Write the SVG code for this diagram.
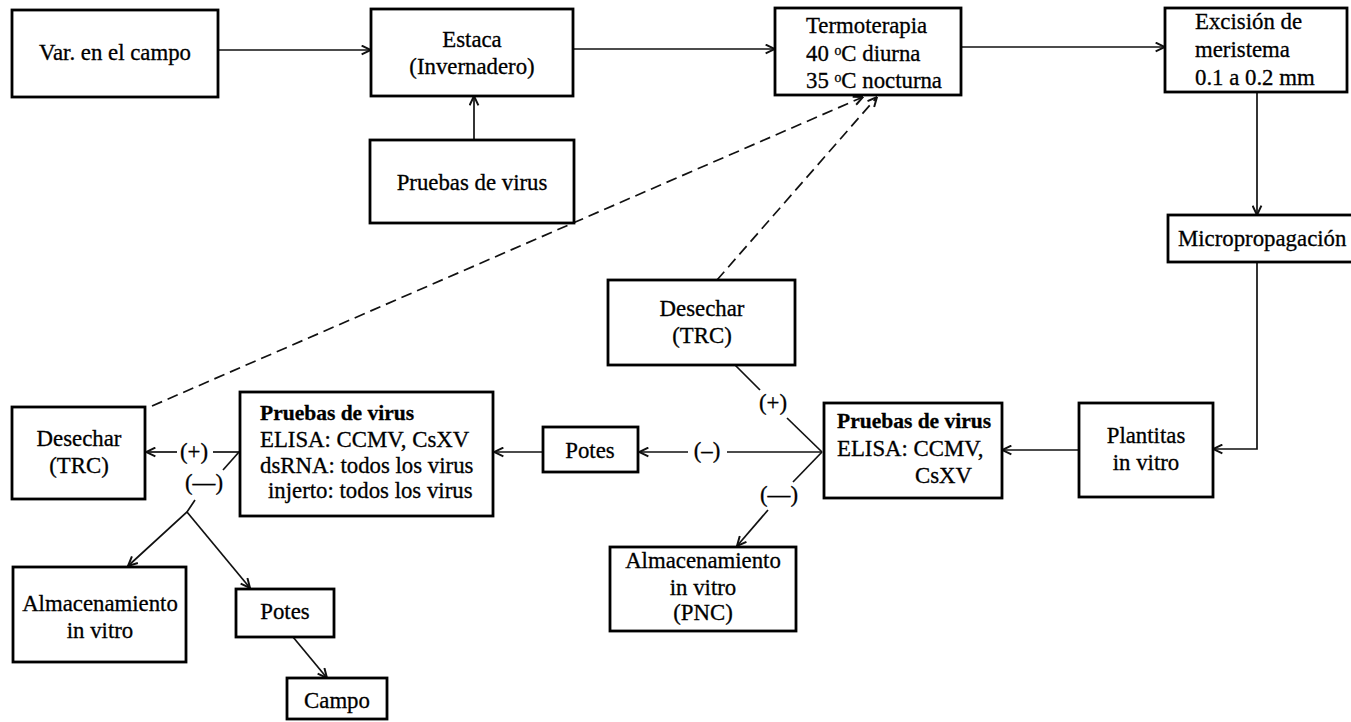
<svg xmlns="http://www.w3.org/2000/svg" width="1351" height="722" viewBox="0 0 1351 722">
<style>
.box{fill:#fff;stroke:#000;stroke-width:2.8}
.ln{fill:none;stroke:#111;stroke-width:1.7}
.dash{stroke-dasharray:11 6}
.t{font-family:"Liberation Serif","Times New Roman",serif;font-size:22.8px;fill:#000;stroke:#000;stroke-width:0.3}
.b{font-weight:bold;font-size:21.5px}
.c{text-anchor:middle}
.sup{font-family:"DejaVu Serif","Liberation Serif",serif;font-size:17px}
</style>
<defs>
<marker id="ah" viewBox="0 0 10 10" refX="9.5" refY="5" markerWidth="11" markerHeight="11" markerUnits="userSpaceOnUse" orient="auto">
<path d="M1,1 L9.5,5 L1,9" fill="none" stroke="#111" stroke-width="1.8"/>
</marker>
</defs>
<rect x="0" y="0" width="1351" height="722" fill="#fff"/>

<g id="connectors">
<line class="ln" x1="218" y1="50" x2="371" y2="50" marker-end="url(#ah)"/>
<line class="ln" x1="474" y1="140" x2="474" y2="96" marker-end="url(#ah)"/>
<line class="ln" x1="573" y1="49" x2="775" y2="49" marker-end="url(#ah)"/>
<line class="ln" x1="961" y1="47" x2="1165" y2="47" marker-end="url(#ah)"/>
<line class="ln" x1="1257" y1="92" x2="1257" y2="215" marker-end="url(#ah)"/>
<polyline class="ln" points="1257,262 1257,449 1213,449" marker-end="url(#ah)"/>
<line class="ln" x1="1079" y1="450" x2="1002" y2="450" marker-end="url(#ah)"/>
<line class="ln" x1="822" y1="452" x2="727" y2="452"/>
<line class="ln" x1="688" y1="452" x2="639" y2="452" marker-end="url(#ah)"/>
<line class="ln" x1="822" y1="452" x2="787" y2="418"/>
<line class="ln" x1="760" y1="390" x2="735" y2="365"/>
<line class="ln" x1="822" y1="452" x2="793" y2="482"/>
<line class="ln" x1="768" y1="510" x2="737" y2="546" marker-end="url(#ah)"/>
<line class="ln" x1="543" y1="452" x2="494" y2="452" marker-end="url(#ah)"/>
<line class="ln" x1="239" y1="452" x2="213" y2="452"/>
<line class="ln" x1="177" y1="452" x2="146" y2="452" marker-end="url(#ah)"/>
<line class="ln" x1="239" y1="452" x2="223" y2="470"/>
<polyline class="ln" points="195,500 187,512 128,566" marker-end="url(#ah)"/>
<line class="ln" x1="187" y1="512" x2="250" y2="588" marker-end="url(#ah)"/>
<line class="ln" x1="293" y1="637" x2="327" y2="678" marker-end="url(#ah)"/>
<line class="ln dash" x1="152" y1="406" x2="863" y2="97" marker-end="url(#ah)"/>
<line class="ln dash" x1="717" y1="280" x2="877" y2="97" marker-end="url(#ah)"/>
<text class="t c" x="707" y="458">(–)</text>
<text class="t c" x="773" y="410">(+)</text>
<text class="t c" x="779" y="502">(—)</text>
<text class="t c" x="194" y="459">(+)</text>
<text class="t c" x="204" y="490">(—)</text>
</g>

<g id="var-campo">
<rect class="box" x="12" y="10" width="206" height="87"/>
<text class="t c" x="115" y="60">Var. en el campo</text>
</g>
<g id="estaca">
<rect class="box" x="371" y="9" width="202" height="87"/>
<text class="t c" x="472" y="47">Estaca</text>
<text class="t c" x="472" y="74">(Invernadero)</text>
</g>
<g id="pruebas-top">
<rect class="box" x="370" y="140" width="204" height="83"/>
<text class="t c" x="472" y="190">Pruebas de virus</text>
</g>
<g id="termoterapia">
<rect class="box" x="775" y="8" width="186" height="87"/>
<text class="t" x="806" y="33">Termoterapia</text>
<text class="t" x="806" y="61">40 <tspan class="sup">⁰</tspan>C diurna</text>
<text class="t" x="806" y="88">35 <tspan class="sup">⁰</tspan>C nocturna</text>
</g>
<g id="excision">
<rect class="box" x="1165" y="8" width="182" height="84"/>
<text class="t" x="1195" y="29">Excisión de</text>
<text class="t" x="1195" y="57">meristema</text>
<text class="t" x="1195" y="85">0.1 a 0.2 mm</text>
</g>
<g id="micropropagacion">
<rect class="box" x="1168" y="215" width="190" height="47"/>
<text class="t" x="1178" y="246">Micropropagación</text>
</g>
<g id="plantitas">
<rect class="box" x="1079" y="403" width="134" height="94"/>
<text class="t c" x="1146" y="443">Plantitas</text>
<text class="t c" x="1146" y="470">in vitro</text>
</g>
<g id="pruebas-elisa">
<rect class="box" x="824" y="403" width="178" height="95"/>
<text class="t b" x="837" y="428">Pruebas de virus</text>
<text class="t" x="837" y="456">ELISA: CCMV,</text>
<text class="t" x="915" y="483">CsXV</text>
</g>
<g id="desechar-mid">
<rect class="box" x="608" y="280" width="187" height="85"/>
<text class="t c" x="702" y="316">Desechar</text>
<text class="t c" x="702" y="343">(TRC)</text>
</g>
<g id="potes-mid">
<rect class="box" x="543" y="427" width="95" height="45"/>
<text class="t c" x="590" y="458">Potes</text>
</g>
<g id="almacenamiento-pnc">
<rect class="box" x="610" y="547" width="186" height="84"/>
<text class="t c" x="703" y="568">Almacenamiento</text>
<text class="t c" x="703" y="595">in vitro</text>
<text class="t c" x="703" y="620">(PNC)</text>
</g>
<g id="pruebas-full">
<rect class="box" x="240" y="392" width="253" height="124"/>
<text class="t b" x="260" y="420">Pruebas de virus</text>
<text class="t" x="260" y="447">ELISA: CCMV, CsXV</text>
<text class="t" x="260" y="473">dsRNA: todos los virus</text>
<text class="t" x="268" y="498">injerto: todos los virus</text>
</g>
<g id="desechar-left">
<rect class="box" x="12" y="407" width="133" height="92"/>
<text class="t c" x="79" y="446">Desechar</text>
<text class="t c" x="79" y="473">(TRC)</text>
</g>
<g id="almacenamiento-left">
<rect class="box" x="13" y="567" width="173" height="95"/>
<text class="t c" x="100" y="611">Almacenamiento</text>
<text class="t c" x="100" y="638">in vitro</text>
</g>
<g id="potes-low">
<rect class="box" x="236" y="589" width="98" height="48"/>
<text class="t c" x="285" y="619">Potes</text>
</g>
<g id="campo">
<rect class="box" x="287" y="678" width="100" height="41"/>
<text class="t c" x="337" y="708">Campo</text>
</g>
</svg>
